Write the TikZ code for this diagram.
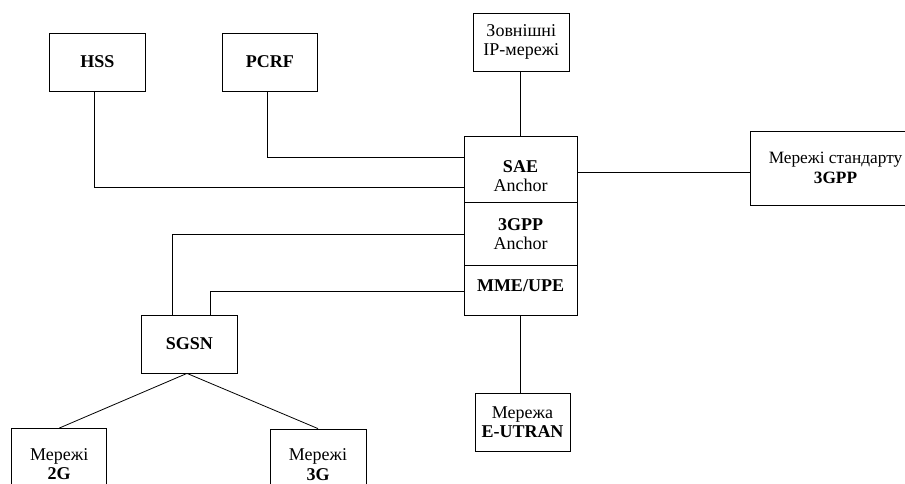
\documentclass[tikz,border=0pt]{standalone}
\usepackage{fontspec}
\setmainfont{Liberation Serif}
\usetikzlibrary{calc}
\begin{document}
\begin{tikzpicture}[x=1pt,y=-1pt,
  box/.style={draw, line width=0.8pt, rectangle, inner sep=0pt, align=center,
    font=\fontsize{18}{19.5}\selectfont},
  lbl/.style={inner sep=0pt, align=center, font=\fontsize{18}{19.5}\selectfont},
  link/.style={draw, line width=0.8pt}]
\useasboundingbox (0,0) rectangle (905,484);

% upper row
\node[box, minimum width=96pt, minimum height=58pt] (hss)  at (97.3,62)  {\textbf{HSS}};
\node[box, minimum width=95pt, minimum height=58pt] (pcrf) at (269.8,62) {\textbf{PCRF}};
\node[box, minimum width=96pt, minimum height=58pt] (ext)  at (521.3,42) {Зовнішні\\IP-мережі};

% gateway column: three stacked sections
\node[box, minimum width=113pt, minimum height=65.3pt] (sae) at (520.5,169.5) {};
\node[box, minimum width=113pt, minimum height=63.4pt] (gpp) at (520.5,234) {};
\node[box, minimum width=113pt, minimum height=49.3pt] (mme) at (520.5,290.5) {};
\node[lbl] (saetxt) at (520.5,176) {\textbf{SAE}\\Anchor};
\node[lbl] (gpptxt) at (520.5,234) {\textbf{3GPP}\\Anchor};
\node[lbl] (mmetxt) at (520.5,286) {\textbf{MME/UPE}};

% right-hand network (runs past the right edge)
\node[box, minimum width=172pt, minimum height=74pt] (netw) at (836,168) {};
\node[lbl, font=\fontsize{17.3}{19.5}\selectfont] (netwtxt) at (835.5,168) {Мережі стандарту\\\textbf{3GPP}};

% lower part
\node[box, minimum width=96pt, minimum height=58pt] (sgsn) at (189.3,344) {\textbf{SGSN}};
\node[box, minimum width=95pt, minimum height=58pt] (eutran) at (522.5,422) {Мережа\\\textbf{E-UTRAN}};
\node[box, minimum width=95pt, minimum height=71pt] (g2) at (59.2,464) {Мережі\\\textbf{2G}};
\node[box, minimum width=96pt, minimum height=71pt] (g3) at (318,464.5) {Мережі\\\textbf{3G}};

% connectors
\draw[link] (sae.north) -- (sae.north |- ext.south);
\draw[link] ($(hss.south)+(-3,0)$) |- ($(sae.west)+(0,17.5)$);
\draw[link] ($(pcrf.south)+(-2.5,0)$) |- ($(sae.west)+(0,-12)$);
\draw[link] ($(sae.east)+(0,3)$) coordinate (saeout) -- (saeout -| netw.west);
\draw[link] ($(sgsn.north)+(-16.6,0)$) |- (gpp.west);
\draw[link] ($(sgsn.north)+(21.4,0)$) |- ($(mme.west)+(0,1.2)$);
\draw[link] (mme.south) -- (mme.south |- eutran.north);
\draw[link] ($(sgsn.south)+(-2.3,0)$) -- (g2.north);
\draw[link] ($(sgsn.south)+(-2.3,0)$) -- (g3.north);
\end{tikzpicture}
\end{document}
